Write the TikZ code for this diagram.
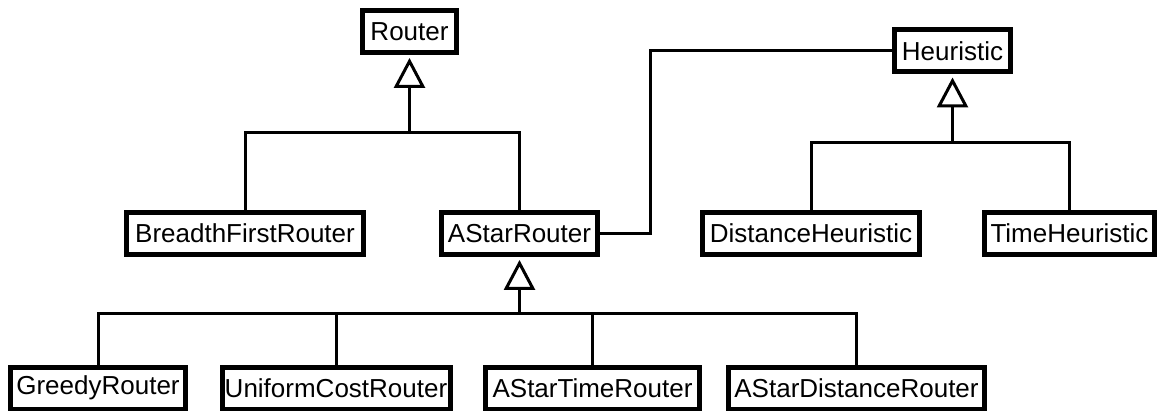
\documentclass[tikz,border=0pt]{standalone}
\usepackage{fontspec}
\setmainfont{Liberation Sans}
\usetikzlibrary{arrows.meta,calc}

\begin{document}
\begin{tikzpicture}[x=1pt,y=-1pt,
  cls/.style={draw=black, line width=5pt, fill=white, inner sep=0pt,
    minimum height=42pt, font=\fontsize{26}{30}\selectfont},
  link/.style={draw=black, line width=3pt},
  inherit/.style={draw=black, line width=3.5pt,
    -{Triangle[open, length=30pt, width=31pt, line width=3pt]}, shorten >=3pt},
]
\useasboundingbox (0,0) rectangle (1158,411);

% classes: Router hierarchy
\node[cls, minimum width=94pt]  (router)  at (409.5,31.5) {Router};
\node[cls, minimum width=237pt] (bfr)     at (245,233.5)  {BreadthFirstRouter};
\node[cls, minimum width=156pt] (astar)   at (519.5,233.5) {AStarRouter};
\node[cls, minimum width=175pt] (greedy)  at (98,388)     {GreedyRouter};
\node[cls, minimum width=228pt] (ucr)     at (336,388)    {UniformCostRouter};
\node[cls, minimum width=214pt] (atime)   at (592.5,388)  {AStarTimeRouter};
\node[cls, minimum width=256pt] (adist)   at (856.5,388)  {AStarDistanceRouter};

% classes: Heuristic hierarchy
\node[cls, minimum width=116pt] (heur)    at (952.5,51)   {Heuristic};
\node[cls, minimum width=217pt] (dheur)   at (811,233.5)  {DistanceHeuristic};
\node[cls, minimum width=170pt] (theur)   at (1069.5,233.5) {TimeHeuristic};

% junction points of the generalisation trees
\coordinate (rj) at (409.5,133);
\coordinate (hj) at (952.5,143);
\coordinate (aj) at (519.5,313);

% Router <|- BreadthFirstRouter, AStarRouter
\draw[inherit] (rj) -- (router.south);
\draw[link] (bfr.north) |- (rj);
\draw[link] (astar.north) |- (rj);

% Heuristic <|- DistanceHeuristic, TimeHeuristic
\draw[inherit] (hj) -- (heur.south);
\draw[link] (dheur.north) |- (hj);
\draw[link] (theur.north) |- (hj);

% AStarRouter <|- four subclasses
\draw[inherit] (aj) -- (astar.south);
\draw[link] (greedy.north) |- (aj);
\draw[link] (ucr.north) |- (aj);
\draw[link] (atime.north) |- (aj);
\draw[link] (adist.north) |- (aj);

% association AStarRouter -- Heuristic
\coordinate (bend) at (650,51);
\draw[link] (astar.east) -| (bend) -- (heur.west);
\end{tikzpicture}
\end{document}
